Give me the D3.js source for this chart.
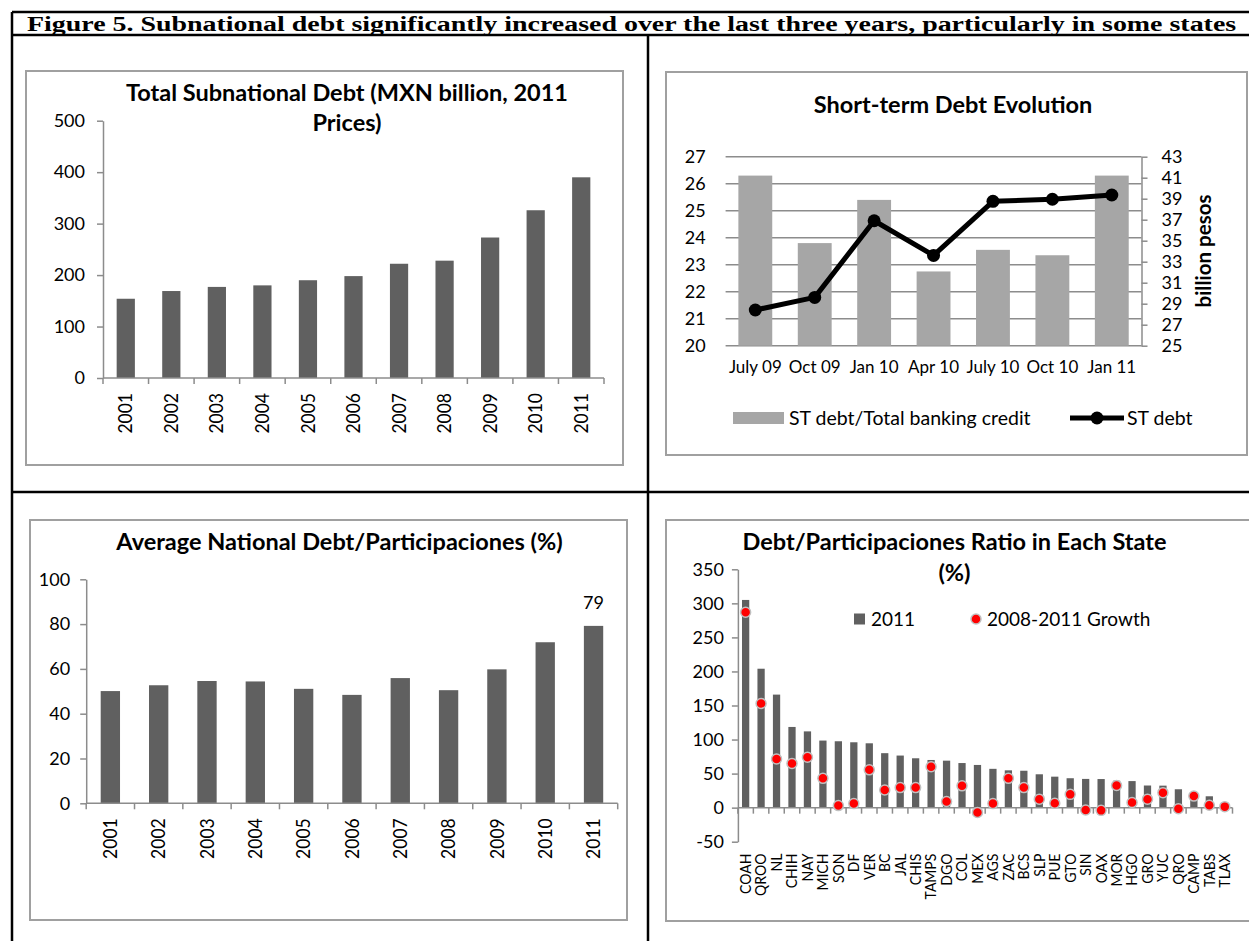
<!DOCTYPE html>
<html>
<head>
<meta charset="utf-8">
<script src="https://cdn.jsdelivr.net/npm/d3@7"></script>
<style>
  body { margin: 0; background: #fff; }
  svg text { font-family: Lato, "Open Sans", sans-serif; fill: #000; }
</style>
</head>
<body>
<svg id="fig" width="1249" height="941"></svg>
<script>
// ---- data ----
const years = ["2001", "2002", "2003", "2004", "2005", "2006", "2007", "2008", "2009", "2010", "2011"];
const totalDebt = [154, 169, 177, 180, 190, 198, 222, 228, 273, 326, 390];
const avgRatio = [50.1, 52.7, 54.6, 54.4, 51.1, 48.4, 55.9, 50.5, 59.8, 71.9, 79.2];

const stMonths = ["July 09", "Oct 09", "Jan 10", "Apr 10", "July 10", "Oct 10", "Jan 11"];
const stShare = [26.3, 23.8, 25.4, 22.75, 23.55, 23.35, 26.3];
const stDebt = [28.4, 29.6, 36.9, 33.6, 38.75, 38.95, 39.35];

const states = ["COAH", "QROO", "NL", "CHIH", "NAY", "MICH", "SON", "DF", "VER", "BC", "JAL", "CHIS",
    "TAMPS", "DGO", "COL", "MEX", "AGS", "ZAC", "BCS", "SLP", "PUE", "GTO", "SIN", "OAX", "MOR", "HGO",
    "GRO", "YUC", "QRO", "CAMP", "TABS", "TLAX"];
const ratio2011 = [305, 204, 166, 118.5, 112, 98.5, 97.5, 96, 94.5, 80, 76.5, 72.5, 70, 69, 65.5, 62.7,
    57, 54.8, 54.2, 49, 45.5, 43.2, 42.2, 42, 39.5, 39, 32.5, 32.3, 27, 21, 16.7, 6];
const growth0811 = [287, 153, 71.5, 65, 74, 43, 3, 6, 55.5, 26, 29.5, 29.5, 60, 9, 32, -7, 6, 43, 29.5,
    12.5, 6.5, 19.5, -3.5, -4, 32.5, 7.5, 12.5, 22, -1.5, 17, 3.5, 1.5];

const figTitle = "Figure 5. Subnational debt significantly increased over the last three years, particularly in some states";

// ---- styles ----
const barDark = "#606060";
const barLight = "#a6a6a6";
const axisGray = "#8c8c8c";
const boxGray = "#a0a0a0";
const tickFont = "18px";
const titleFont = "23.5px";

const svg = d3.select("#fig");

// outer document table
const frame = svg.append("g").attr("stroke", "#000").attr("stroke-width", 2.5);
frame.append("line").attr("x1", 12).attr("x2", 12).attr("y1", 12).attr("y2", 941);
frame.append("line").attr("x1", 12).attr("x2", 1249).attr("y1", 12).attr("y2", 12);
frame.append("line").attr("x1", 12).attr("x2", 1249).attr("y1", 35).attr("y2", 35);
frame.append("line").attr("x1", 648).attr("x2", 648).attr("y1", 35).attr("y2", 941);
frame.append("line").attr("x1", 12).attr("x2", 1249).attr("y1", 492).attr("y2", 492);

// figure caption (the scanned original is stretched horizontally)
svg.append("text")
    .attr("transform", "translate(27,30.5) scale(1.27,1)")
    .style("font-family", "'Liberation Serif', 'Times New Roman', serif")
    .style("font-weight", "bold")
    .style("font-size", "22px")
    .text(figTitle);

function chartBox(x0, y0, x1, y1) {
    svg.append("rect")
        .attr("x", x0).attr("y", y0)
        .attr("width", x1 - x0).attr("height", y1 - y0)
        .attr("fill", "#fff")
        .attr("stroke", boxGray)
        .attr("stroke-width", 2);
}

function chartTitle(lines, cx, cy, lineGap) {
    lines.forEach((t, i) => {
        svg.append("text")
            .attr("x", cx).attr("y", cy + i * lineGap)
            .attr("dy", "0.35em")
            .attr("text-anchor", "middle")
            .style("font-weight", "bold")
            .style("font-size", titleFont)
            .text(t);
    });
}

function styleAxis(g) {
    g.select(".domain").attr("stroke", axisGray).attr("stroke-width", 1.5);
    g.selectAll(".tick line").attr("stroke", axisGray).attr("stroke-width", 1.5);
    g.selectAll(".tick text").style("font-size", tickFont).style("font-family", "Lato, sans-serif");
}

// category axis with ticks on the band boundaries and rotated labels
function bandAxis(x, yPos, labelOffset, fontSize, stretch) {
    const g = svg.append("g").attr("transform", `translate(0,${yPos})`);
    const [r0, r1] = x.range();
    g.append("line")
        .attr("x1", r0).attr("x2", r1)
        .attr("stroke", axisGray).attr("stroke-width", 1.5);
    g.selectAll(".bt")
        .data(d3.range(x.domain().length + 1))
        .join("line")
        .attr("class", "bt")
        .attr("x1", i => r0 + i * x.step())
        .attr("x2", i => r0 + i * x.step())
        .attr("y1", 0).attr("y2", 6)
        .attr("stroke", axisGray).attr("stroke-width", 1.5);
    g.append("g")
        .call(d3.axisBottom(x).tickSize(0))
        .call(a => a.select(".domain").remove())
        .selectAll("text")
        .attr("transform", `scale(${stretch || 1},1) rotate(-90)`)
        .attr("x", -labelOffset)
        .attr("y", 0)
        .attr("dy", "0.35em")
        .style("text-anchor", "end")
        .style("font-size", fontSize)
        .style("font-family", "Lato, sans-serif");
}

// ---- Panel 1: total subnational debt ----
(function () {
    chartBox(26, 71, 623, 465);
    chartTitle(["Total Subnational Debt (MXN billion, 2011", "Prices)"], 347, 93, 30);

    const x = d3.scaleBand().domain(years).range([103, 604]).paddingInner(0.6).paddingOuter(0.3);
    const y = d3.scaleLinear().domain([0, 500]).range([378, 120.7]);

    svg.append("g")
        .attr("transform", "translate(103,0)")
        .call(d3.axisLeft(y).tickValues(d3.range(0, 501, 100)).tickSize(6).tickSizeOuter(0).tickPadding(12))
        .call(styleAxis);

    svg.append("g").selectAll("rect")
        .data(totalDebt)
        .join("rect")
        .attr("x", (d, i) => x(years[i]))
        .attr("width", x.bandwidth())
        .attr("y", d => y(d))
        .attr("height", d => y(0) - y(d))
        .attr("fill", barDark);

    bandAxis(x, y(0), 15, "17.5px", 1.08);
})();

// ---- Panel 2: short-term debt evolution ----
(function () {
    chartBox(666, 72, 1247, 455);
    chartTitle(["Short-term Debt Evolution"], 953, 105, 0);

    const x = d3.scaleBand().domain(stMonths).range([725.6, 1141.5]).paddingInner(0.43).paddingOuter(0.215);
    const yL = d3.scaleLinear().domain([20, 27]).range([345.7, 156.7]);
    const yR = d3.scaleLinear().domain([25, 43]).range([345.7, 156.7]);

    // gridlines
    svg.append("g").selectAll("line")
        .data(d3.range(20, 28))
        .join("line")
        .attr("x1", 725.6).attr("x2", 1141.5)
        .attr("y1", d => yL(d)).attr("y2", d => yL(d))
        .attr("stroke", axisGray).attr("stroke-width", 1.5);

    svg.append("g")
        .attr("transform", "translate(725.6,0)")
        .call(d3.axisLeft(yL).tickValues(d3.range(20, 28)).tickFormat(d3.format("d")).tickSize(0).tickPadding(20))
        .call(styleAxis)
        .call(g => g.select(".domain").remove());

    svg.append("g")
        .attr("transform", "translate(1141.5,0)")
        .call(d3.axisRight(yR).tickValues(d3.range(25, 44, 2)).tickSize(6).tickSizeOuter(0).tickPadding(14))
        .call(styleAxis);

    svg.append("text")
        .attr("transform", "translate(1204,251) rotate(-90)")
        .attr("dy", "0.35em")
        .attr("text-anchor", "middle")
        .style("font-weight", "bold")
        .style("font-size", "20.5px")
        .text("billion pesos");

    svg.append("g").selectAll("rect")
        .data(stShare)
        .join("rect")
        .attr("x", (d, i) => x(stMonths[i]))
        .attr("width", x.bandwidth())
        .attr("y", d => yL(d))
        .attr("height", d => yL(20) - yL(d))
        .attr("fill", barLight);

    const cx = (d, i) => x(stMonths[i]) + x.bandwidth() / 2;
    svg.append("path")
        .datum(stDebt)
        .attr("fill", "none")
        .attr("stroke", "#000")
        .attr("stroke-width", 5)
        .attr("stroke-linejoin", "round")
        .attr("d", d3.line().x(cx).y(d => yR(d)));

    svg.append("g").selectAll("circle")
        .data(stDebt)
        .join("circle")
        .attr("cx", cx)
        .attr("cy", d => yR(d))
        .attr("r", 6.5)
        .attr("fill", "#000");

    // month labels
    svg.append("g")
        .attr("transform", "translate(0,345.7)")
        .call(d3.axisBottom(x).tickSize(0).tickPadding(15))
        .call(styleAxis)
        .call(g => g.select(".domain").remove())
        .call(g => g.selectAll(".tick text").style("font-size", "17px"));

    // legend
    const lg = svg.append("g").attr("transform", "translate(0,418)");
    lg.append("rect").attr("x", 733).attr("y", -6).attr("width", 51).attr("height", 12).attr("fill", barLight);
    lg.append("text").attr("x", 789).attr("dy", "0.35em").style("font-size", "19.5px").text("ST debt/Total banking credit");
    lg.append("line").attr("x1", 1070).attr("x2", 1124).attr("stroke", "#000").attr("stroke-width", 5);
    lg.append("circle").attr("cx", 1097).attr("r", 6.5).attr("fill", "#000");
    lg.append("text").attr("x", 1127).attr("dy", "0.35em").style("font-size", "19.5px").text("ST debt");
})();

// ---- Panel 3: average debt / participaciones ----
(function () {
    chartBox(30, 520, 627, 920);
    chartTitle(["Average National Debt/Participaciones (%)"], 339.5, 541.7, 0);

    const x = d3.scaleBand().domain(years).range([86.2, 617.7]).paddingInner(0.6).paddingOuter(0.3);
    const y = d3.scaleLinear().domain([0, 100]).range([803.3, 579.3]);

    svg.append("g")
        .attr("transform", "translate(86.2,0)")
        .call(d3.axisLeft(y).tickValues(d3.range(0, 101, 20)).tickSize(6).tickSizeOuter(0).tickPadding(10))
        .call(styleAxis);

    svg.append("g").selectAll("rect")
        .data(avgRatio)
        .join("rect")
        .attr("x", (d, i) => x(years[i]))
        .attr("width", x.bandwidth())
        .attr("y", d => y(d))
        .attr("height", d => y(0) - y(d))
        .attr("fill", barDark);

    // value label on the last bar
    const last = avgRatio.length - 1;
    svg.append("text")
        .attr("x", x(years[last]) + x.bandwidth() / 2)
        .attr("y", y(avgRatio[last]) - 23)
        .attr("dy", "0.35em")
        .attr("text-anchor", "middle")
        .style("font-size", tickFont)
        .text(Math.round(avgRatio[last]));

    bandAxis(x, y(0), 15, "17.5px", 1.08);
})();

// ---- Panel 4: debt/participaciones by state ----
(function () {
    chartBox(666, 520, 1262, 921);
    chartTitle(["Debt/Participaciones Ratio in Each State", "(%)"], 954.5, 541.7, 31);

    const x = d3.scaleBand().domain(states).range([737.9, 1232.5]).paddingInner(0.53).paddingOuter(0.265);
    const y = d3.scaleLinear().domain([-50, 350]).range([841.7, 569.3]);

    svg.append("g")
        .attr("transform", "translate(737.9,0)")
        .call(d3.axisLeft(y).tickValues(d3.range(-50, 351, 50)).tickFormat(d => String(d))
            .tickSize(6).tickSizeOuter(0).tickPadding(8))
        .call(styleAxis);

    svg.append("g").selectAll("rect")
        .data(ratio2011)
        .join("rect")
        .attr("x", (d, i) => x(states[i]))
        .attr("width", x.bandwidth())
        .attr("y", d => y(d))
        .attr("height", d => y(0) - y(d))
        .attr("fill", barDark);

    bandAxis(x, y(0), 46, "14px", 1.1);

    svg.append("g").selectAll("circle")
        .data(growth0811)
        .join("circle")
        .attr("cx", (d, i) => x(states[i]) + x.bandwidth() / 2)
        .attr("cy", d => y(d))
        .attr("r", 5)
        .attr("fill", "#ff0000")
        .attr("stroke", "#c0c0c0")
        .attr("stroke-width", 1.5);

    // legend
    const lg = svg.append("g").attr("transform", "translate(0,619)");
    lg.append("rect").attr("x", 854).attr("y", -5.5).attr("width", 11).attr("height", 11).attr("fill", barDark);
    lg.append("text").attr("x", 871).attr("dy", "0.35em").style("font-size", "19px").text("2011");
    lg.append("circle").attr("cx", 976).attr("r", 5).attr("fill", "#ff0000").attr("stroke", "#c0c0c0").attr("stroke-width", 1.5);
    lg.append("text").attr("x", 987).attr("dy", "0.35em").style("font-size", "19px").text("2008-2011 Growth");
})();
</script>
</body>
</html>
